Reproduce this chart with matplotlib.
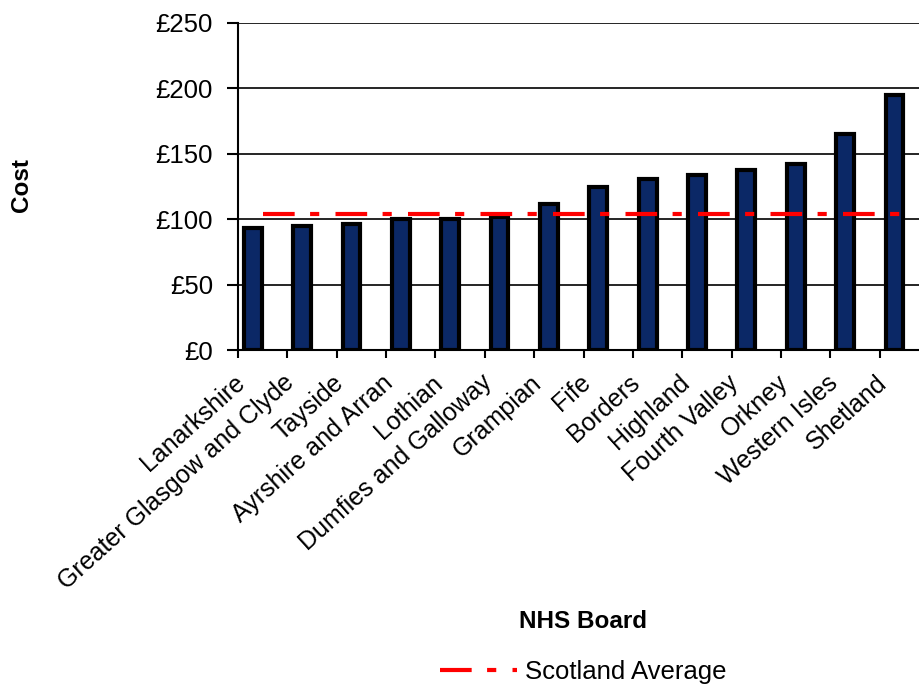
import matplotlib
matplotlib.use("Agg")
import matplotlib.pyplot as plt
import matplotlib.transforms as mtransforms
import numpy as np

boards = ["Lanarkshire", "Greater Glasgow and Clyde", "Tayside", "Ayrshire and Arran",
          "Lothian", "Dumfies and Galloway", "Grampian", "Fife", "Borders", "Highland",
          "Fourth Valley", "Orkney", "Western Isles", "Shetland"]
cost = [93, 94.5, 96, 100, 100, 101.5, 111.5, 124.5, 130.5, 133.5, 137.5, 142, 165, 194.5]
scotland_avg = 104
yticks = [0, 50, 100, 150, 200, 250]
ytick_labels = ["£0", "£50", "£100", "£150", "£200", "£250"]

plt.rcParams['font.family'] = ['Liberation Sans', 'DejaVu Sans']

fig = plt.figure(figsize=(9.2, 6.84), dpi=100)
ax = fig.add_axes([238/920, 1-350/684, 691/920, (350-22.7)/684])

x = np.arange(len(boards))
ax.bar(x - 0.2, cost, width=0.36, color='#0b2866', edgecolor='black', linewidth=3, zorder=3)
line, = ax.plot([x[0], x[-1]], [scotland_avg, scotland_avg], color='#ff0000', linewidth=3,
                solid_capstyle='butt', dash_capstyle='butt', zorder=4, label='Scotland Average')
line.set_dashes((7.6, 3.7, 2.2, 3.9))

ax.set_xlim(-0.5, len(boards) - 0.5)
ax.set_ylim(0, 250)
ax.set_yticks(yticks)
ax.set_yticklabels(ytick_labels, fontsize=18.5)
ax.yaxis.grid(True, color='black', linewidth=1.2, zorder=0)
ax.set_axisbelow(True)

ax.set_xticks(np.arange(len(boards) + 1) - 0.5)
ax.set_xticklabels([])
ax.set_xticks(x, minor=True)
ax.set_xticklabels(boards, minor=True, rotation=42, ha='right', va='center',
                   rotation_mode='anchor', fontsize=18)
ax.tick_params(axis='x', which='minor', length=0, pad=14)
ax.tick_params(axis='x', which='major', length=6, width=1.5, direction='out')
ax.tick_params(axis='y', length=8, width=1.5, direction='out', pad=10)

offset = mtransforms.ScaledTranslation(-21/100, -10/100, fig.dpi_scale_trans)
for lbl in ax.get_xticklabels(minor=True):
    lbl.set_transform(lbl.get_transform() + offset)

for s in ['top', 'right']:
    ax.spines[s].set_visible(False)
ax.spines['left'].set_linewidth(1.5)
ax.spines['bottom'].set_linewidth(1.5)

fig.text(22/920, 1-185/684, 'Cost', rotation=90, fontsize=17.5, fontweight='bold',
         ha='center', va='center')
fig.text(583/920, 1-621/684, 'NHS Board', fontsize=17.5, fontweight='bold',
         ha='center', va='center')
fig.legend(handles=[line], loc='center', bbox_to_anchor=(583/920, 1-672/684),
           frameon=False, fontsize=18.5, handlelength=3.0, handletextpad=0.3)

fig.savefig('out.png', dpi=100)
